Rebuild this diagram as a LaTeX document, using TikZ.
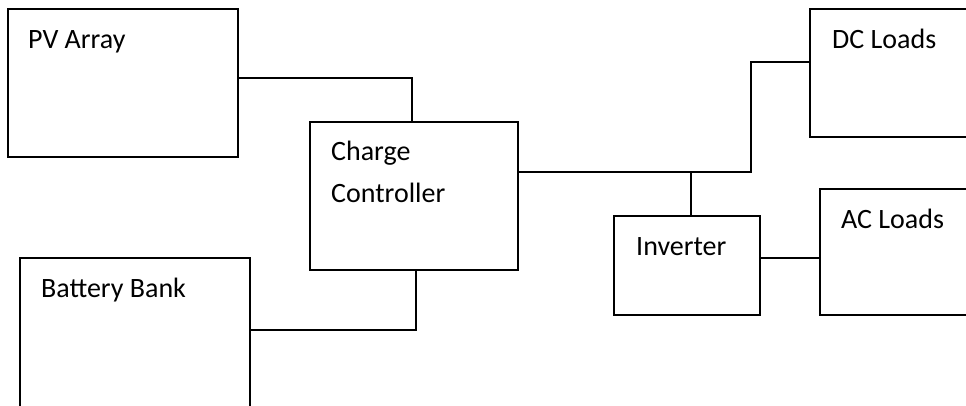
\documentclass[tikz,border=0pt]{standalone}
\usepackage{fontspec}
\setmainfont{Carlito}
\begin{document}
\begin{tikzpicture}[x=1pt,y=-1pt,
  box/.style={draw=black,line width=1.8pt,rectangle,inner sep=0pt,outer sep=0pt,anchor=north west},
  lbl/.style={inner sep=0pt,anchor=base west,font=\fontsize{28}{34}\selectfont},
  wire/.style={draw=black,line width=1.8pt}]
\useasboundingbox (0,0) rectangle (966,405);
\clip (0,0) rectangle (966,405);
\node[box,minimum width=230,minimum height=148] (pv) at (8,9) {};
\node[box,minimum width=208,minimum height=148] (cc) at (310,122) {};
\node[box,minimum width=230,minimum height=170] (bat) at (20,258) {};
\node[box,minimum width=190,minimum height=128] (dc) at (810,9) {};
\node[box,minimum width=180,minimum height=126] (ac) at (820,189) {};
\node[box,minimum width=146,minimum height=99] (inv) at (614,216) {};
\node[lbl] (pvt) at (28,48) {PV Array};
\node[lbl] (cct1) at (331,160) {Charge};
\node[lbl] (cct2) at (331,202) {Controller};
\node[lbl] (batt) at (41,297) {Battery Bank};
\node[lbl] (dct) at (832,48) {DC Loads};
\node[lbl] (act) at (841,228) {AC Loads};
\node[lbl] (invt) at (636,255) {Inverter};
\coordinate (j1) at (691,172);
\coordinate (bend) at (751,172);
\draw[wire] ([yshift=5pt]pv.east) -| ([xshift=-2pt]cc.north);
\draw[wire] ([xshift=2pt]cc.south) |- ([yshift=13pt]bat.east);
\draw[wire] (cc.east |- j1) -- (bend) |- ([yshift=11pt]dc.west);
\draw[wire] (j1) -- (j1 |- inv.north);
\draw[wire] ([yshift=7.5pt]inv.east) -- ([yshift=7.5pt]inv.east -| ac.west);
\end{tikzpicture}
\end{document}
